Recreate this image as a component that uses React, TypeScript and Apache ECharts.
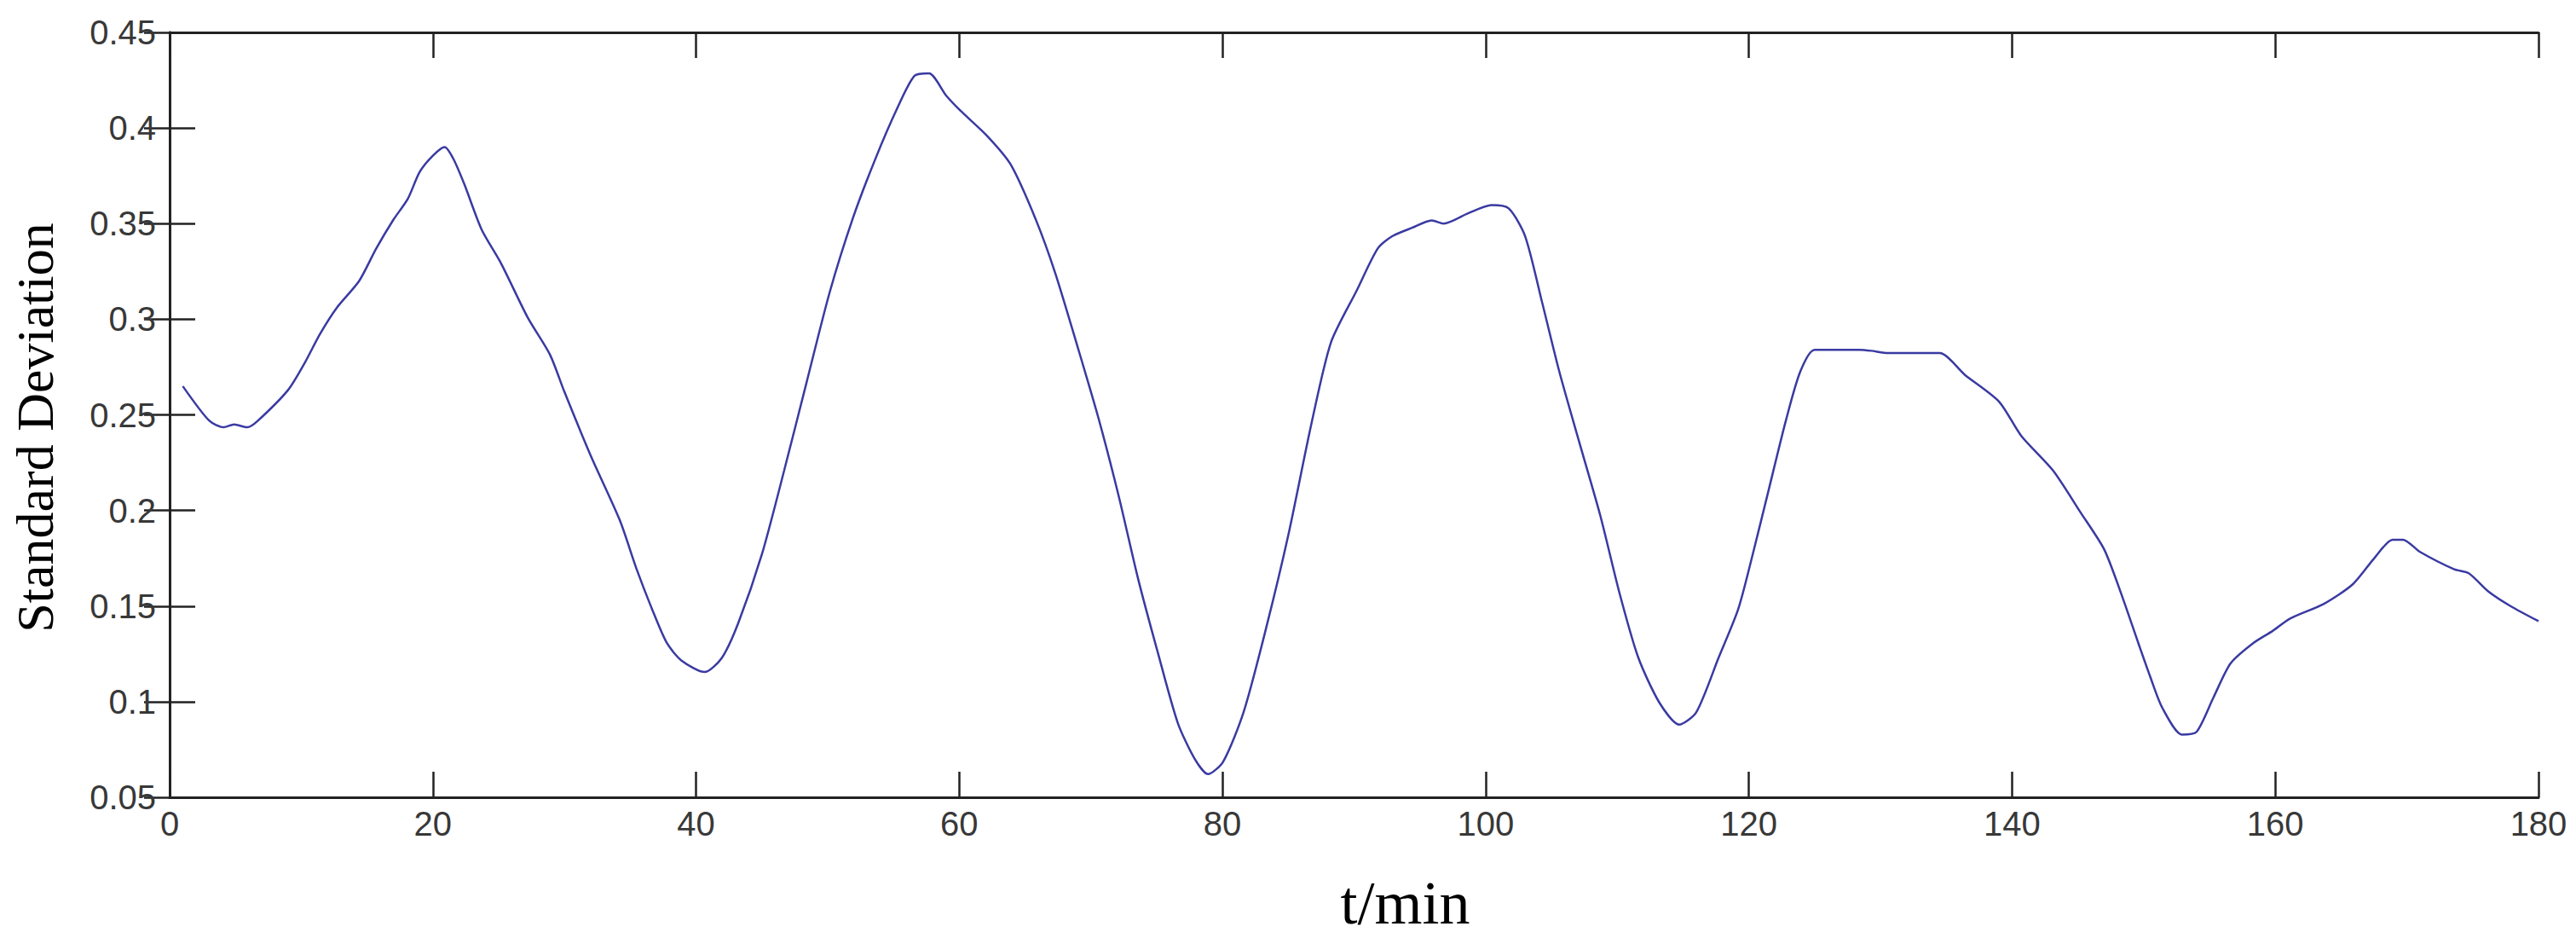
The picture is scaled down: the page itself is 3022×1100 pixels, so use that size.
import React, { useEffect, useRef } from "react";
import * as echarts from "echarts";

// Time (min) at which each reading was taken off the reference curve
const times: number[] = [
  1, 3.0, 4.1, 4.9, 5.9, 6.65, 9.0, 10.3, 11.4, 12.7, 14.4, 15.7, 17.0, 18.1, 19.0, 20.0, 20.9, 21.55,
  22.4, 23.7, 25.2, 27.2, 28.9, 30.0, 32.0, 34.2, 35.5, 36.8, 37.8, 38.9, 40.65, 41.95, 43.2, 45.0,
  46.7, 48.4, 50.15, 51.9, 53.6, 55.3, 56.6, 57.7, 59.0, 60.1, 62.1, 63.9, 65.8, 67.3, 69.0, 70.55,
  72.1, 73.6, 75.1, 76.6, 77.9, 78.9, 80.05, 81.6, 83.3, 85.0, 86.8, 88.25, 90.2, 91.8, 92.9, 94.4,
  95.9, 96.8, 98.7, 100.45, 101.75, 103.0, 104.3, 105.6, 107.1, 108.7, 110.2, 111.6, 113.2, 114.7,
  116.0, 117.7, 119.2, 120.4, 121.5, 122.8, 123.9, 125.0, 128.4, 129.3, 130.6, 134.5, 136.4, 139.0,
  140.7, 143.1, 145.2, 147.0, 148.3, 149.6, 150.5, 151.4, 152.9, 154.0, 155.3, 156.6, 158.3, 159.8,
  161.1, 163.7, 165.9, 167.6, 168.9, 169.7, 171.0, 173.6, 174.7, 176.2, 177.9, 180.0,
];

// Standard deviation readings
const stdDev: number[] = [
  0.265, 0.247, 0.2435, 0.245, 0.2435, 0.2466, 0.263, 0.2776, 0.292, 0.306, 0.32, 0.337, 0.352, 0.363,
  0.377, 0.3855, 0.39, 0.384, 0.3705, 0.347, 0.329, 0.301, 0.2815, 0.262, 0.2286, 0.195, 0.169, 0.146,
  0.1305, 0.1215, 0.1155, 0.1228, 0.141, 0.177, 0.221, 0.267, 0.314, 0.3525, 0.3834, 0.4105, 0.4273,
  0.4286, 0.417, 0.409, 0.396, 0.381, 0.3524, 0.324, 0.2854, 0.249, 0.208, 0.164, 0.1254, 0.089, 0.07,
  0.0621, 0.0686, 0.0944, 0.138, 0.187, 0.2467, 0.288, 0.315, 0.337, 0.3434, 0.3478, 0.3517, 0.35,
  0.3555, 0.3597, 0.358, 0.3434, 0.3085, 0.2725, 0.236, 0.1976, 0.156, 0.123, 0.0995, 0.088, 0.0944,
  0.123, 0.1486, 0.18, 0.2106, 0.2467, 0.2725, 0.284, 0.284, 0.2835, 0.2823, 0.2823, 0.271, 0.257,
  0.239, 0.221, 0.199, 0.1796, 0.1563, 0.1305, 0.113, 0.097, 0.0828, 0.0841, 0.1022, 0.12, 0.1305,
  0.137, 0.1434, 0.1512, 0.1615, 0.1757, 0.1847, 0.1847, 0.1783, 0.1692, 0.1672, 0.1576, 0.1499, 0.1421,
];

const xMin = 0;
const xMax = 180;
const xStep = 20;
const yMin = 0.05;
const yMax = 0.45;
const yStep = 0.05;

const xTitle = "t/min";
const yTitle = "Standard Deviation";

export default function App() {
  const ref = useRef<HTMLDivElement>(null);

  useEffect(() => {
    if (!ref.current) return;
    const chart = echarts.init(ref.current, undefined, { renderer: "svg" });

    const axisColor = "#222222";
    const labelStyle = {
      fontFamily: "'Liberation Sans', Arial, sans-serif",
      fontSize: 40,
      color: "#383838",
    };
    const lineStyle = { color: axisColor, width: 3 };
    const tickStyle = { color: axisColor, width: 2.5 };

    const data = times.map((t, i) => [t, stdDev[i]]);

    chart.setOption({
      animation: false,
      backgroundColor: "#ffffff",
      grid: { left: 199, right: 44, top: 38, bottom: 163, containLabel: false },
      xAxis: [
        {
          type: "value",
          min: xMin,
          max: xMax,
          interval: xStep,
          position: "bottom",
          splitLine: { show: false },
          axisLine: { show: true, lineStyle },
          axisTick: { show: true, inside: true, length: 30, lineStyle: tickStyle },
          axisLabel: { ...labelStyle, margin: 11 },
          name: xTitle,
          nameLocation: "middle",
          nameGap: 88,
          nameTextStyle: {
            fontFamily: "'Liberation Serif', 'Times New Roman', serif",
            fontSize: 72,
            color: "#000000",
            padding: [0, 0, 0, 120],
          },
        },
        {
          type: "value",
          min: xMin,
          max: xMax,
          interval: xStep,
          position: "top",
          splitLine: { show: false },
          axisLine: { show: true, lineStyle },
          axisTick: { show: true, inside: true, length: 30, lineStyle: tickStyle },
          axisLabel: { show: false },
        },
      ],
      yAxis: [
        {
          type: "value",
          min: yMin,
          max: yMax,
          interval: yStep,
          position: "left",
          splitLine: { show: false },
          axisLine: { show: true, lineStyle },
          axisTick: { show: true, inside: true, length: 30, lineStyle: tickStyle },
          axisLabel: {
            ...labelStyle,
            margin: 16,
            formatter: (v: number) => String(parseFloat(v.toFixed(2))),
          },
          name: yTitle,
          nameLocation: "middle",
          nameGap: 127,
          nameTextStyle: {
            fontFamily: "'Liberation Serif', 'Times New Roman', serif",
            fontSize: 62,
            color: "#000000",
            padding: [0, 30, 0, 0],
          },
        },
        {
          type: "value",
          min: yMin,
          max: yMax,
          interval: yStep,
          position: "right",
          splitLine: { show: false },
          axisLine: { show: true, lineStyle },
          axisTick: { show: true, inside: true, length: 30, lineStyle: tickStyle },
          axisLabel: { show: false },
        },
      ],
      series: [
        {
          type: "line",
          xAxisIndex: 0,
          yAxisIndex: 0,
          data,
          showSymbol: false,
          symbol: "none",
          smooth: 0.25,
          lineStyle: { color: "#3a3aa2", width: 2.5 },
        },
      ],
    });

    return () => chart.dispose();
  }, []);

  return (
    <div
      ref={ref}
      style={{ position: "fixed", left: 0, top: 0, width: 3022, height: 1100, background: "#fff" }}
    />
  );
}
